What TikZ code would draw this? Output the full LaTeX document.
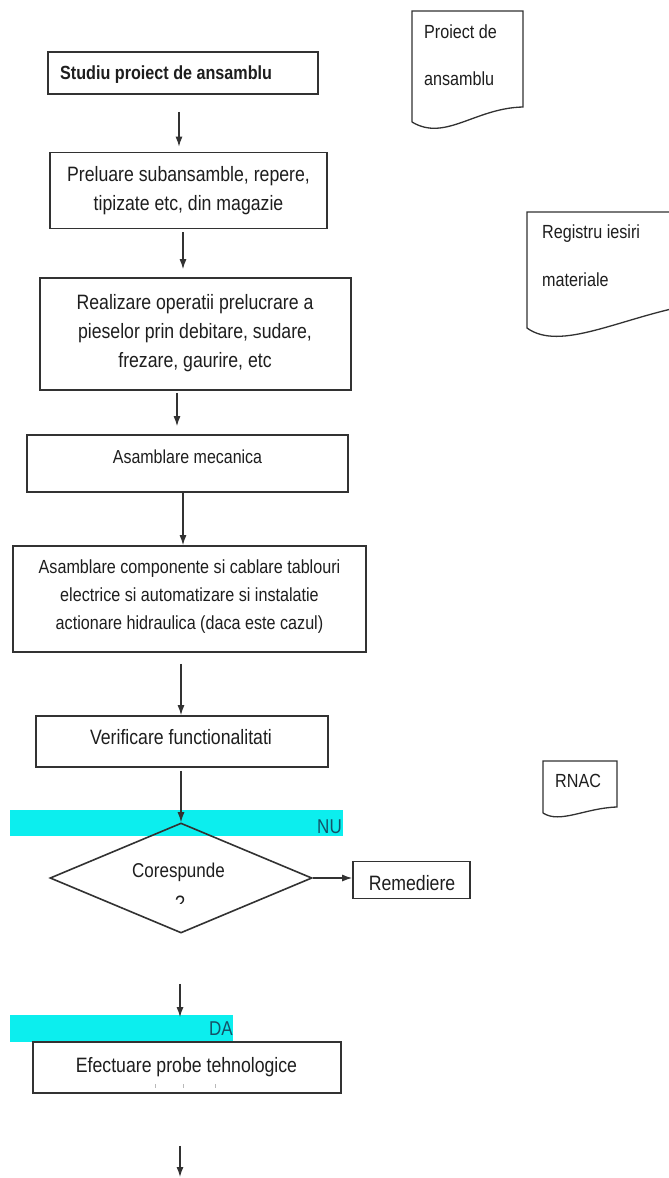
\documentclass[tikz,border=0pt]{standalone}
\usepackage{fontspec}
\setmainfont{Liberation Sans}[FakeStretch=0.85]
\usetikzlibrary{arrows.meta,shapes.geometric}
\definecolor{lineC}{RGB}{50,50,50}
\definecolor{textC}{RGB}{30,30,30}
\definecolor{bandC}{RGB}{12,238,238}
\definecolor{tealC}{RGB}{20,82,104}
\tikzset{
  boxn/.style={draw=lineC, line width=1.7pt, rectangle, inner sep=0pt, fill=none},
  docline/.style={draw=lineC, line width=1.3pt},
  txt/.style={inner sep=0pt, text=textC, font=\fontsize{20.8}{29}\selectfont},
  smalltxt/.style={inner sep=0pt, text=textC, font=\fontsize{19}{23}\selectfont, anchor=base west},
  bandtxt/.style={inner sep=0pt, text=tealC, font=\fontsize{20}{24}\selectfont, anchor=base east},
  arr/.style={draw=lineC, line width=1.2pt, -{Latex[length=10pt,width=7pt]}},
  tick/.style={draw=gray!55, line width=0.7pt}
}
\begin{document}
\begin{tikzpicture}[x=1pt,y=-1pt]
\clip (0,0) rectangle (669,1178);
\fill[white] (0,0) rectangle (669,1178);

% cyan bands
\fill[bandC] (10,810) rectangle (343,836);
\fill[bandC] (10,1015) rectangle (233,1042);

% column coordinates
\coordinate (c177) at (177,0);
\coordinate (c179) at (179,0);
\coordinate (c180) at (180,0);
\coordinate (c182) at (181,0);
\coordinate (c183) at (183,0);
\coordinate (endc) at (180,1177);

% process boxes
\node[boxn, minimum width=270pt, minimum height=42pt] (b1) at (183,73) {};
\node[boxn, minimum width=277pt, minimum height=76pt] (b2) at (188.5,190.5) {};
\node[boxn, minimum width=311pt, minimum height=112pt] (b3) at (195.5,334) {};
\node[boxn, minimum width=321pt, minimum height=57pt] (b4) at (187.5,463.5) {};
\node[boxn, minimum width=353pt, minimum height=106pt] (b5) at (189.5,599) {};
\node[boxn, minimum width=292pt, minimum height=51pt] (b6) at (182,741.5) {};
\node[boxn, minimum width=117pt, minimum height=37pt] (rem) at (411.5,880) {};
\node[boxn, minimum width=308pt, minimum height=51pt] (b7) at (187,1067.5) {};

% decision
\node[draw=lineC, line width=1.6pt, shape=diamond, inner sep=0pt,
      minimum width=262pt, minimum height=110pt] (d) at (181,878) {};

% texts in boxes
\node[txt, font=\bfseries\fontsize{19}{23}\selectfont, anchor=base west] (t1) at (60,79) {Studiu proiect de ansamblu};
\node[txt, align=center] (t2) at (188.5,190.5) {Preluare subansamble, repere,\\tipizate etc, din magazie};
\node[txt, align=center] (t3) at (195,333) {Realizare operatii prelucrare a\\pieselor prin debitare, sudare,\\frezare, gaurire, etc};
\node[txt, font=\fontsize{18.8}{26}\selectfont, anchor=base] (t4) at (187.5,463.3) {Asamblare mecanica};
\node[txt, font=\fontsize{19}{28}\selectfont, align=center] (t5) at (189.5,597) {Asamblare componente si cablare tablouri\\electrice si automatizare si instalatie\\actionare hidraulica (daca este cazul)};
\node[txt, anchor=base] (t6) at (181,744) {Verificare functionalitati};
\node[txt, anchor=base] (t7) at (186.5,1072) {Efectuare probe tehnologice};
\node[txt, anchor=base] (trem) at (412,890.7) {Remediere};
\node[txt, font=\fontsize{20}{24}\selectfont, anchor=base] (tcor) at (178.5,877) {Corespunde};
\begin{scope}
  \clip (168,892) rectangle (192,903);
  \node[txt, anchor=base] (tq) at (180,910) {?};
\end{scope}
\draw[tick] (155,1084) -- (155,1088);
\draw[tick] (183,1084) -- (183,1088);
\draw[tick] (215,1084) -- (215,1088);

% band labels
\node[bandtxt] (nu) at (342,833) {NU};
\node[bandtxt] (da) at (233,1035) {DA};

% documents
\draw[docline] (412,122) -- (412,11) -- (523,11) -- (523,107)
  .. controls (475,108) and (445,142) .. (412,122);
\node[smalltxt] (p1) at (424,38) {Proiect de};
\node[smalltxt] (p2) at (424,85) {ansamblu};

\draw[docline] (690,212) -- (527,212) -- (527,328)
  .. controls (560,352) and (620,318) .. (690,305);
\node[smalltxt] (r1) at (542,238) {Registru iesiri};
\node[smalltxt] (r2) at (542,286) {materiale};

\draw[docline] (543,813) -- (543,761) -- (617,761) -- (617,807)
  .. controls (585,808) and (560,824) .. (543,813);
\node[smalltxt] (rn) at (555,787) {RNAC};

% connectors
\draw[arr, shorten <=17pt, shorten >=5pt] (b1.south -| c179) -- (b2.north -| c179);
\draw[arr, shorten <=3pt, shorten >=8pt] (b2.south -| c183) -- (b3.north -| c183);
\draw[arr, shorten <=2pt, shorten >=8pt] (b3.south -| c177) -- (b4.north -| c177);
\draw[arr] (b4.south -| c183) -- (b5.north -| c183);
\draw[arr, shorten <=11pt] (b5.south -| c182) -- (b6.north -| c182);
\draw[arr, shorten <=3pt] (b6.south -| d.north) -- (d.north);
\draw[arr] (d.east) -- (d.east -| rem.west);
\draw[arr, shorten <=50pt, shorten >=24pt] (d.south -| c180) -- (b7.north -| c180);
\draw[arr, shorten <=52pt] (b7.south -| endc) -- (endc);
\end{tikzpicture}
\end{document}
